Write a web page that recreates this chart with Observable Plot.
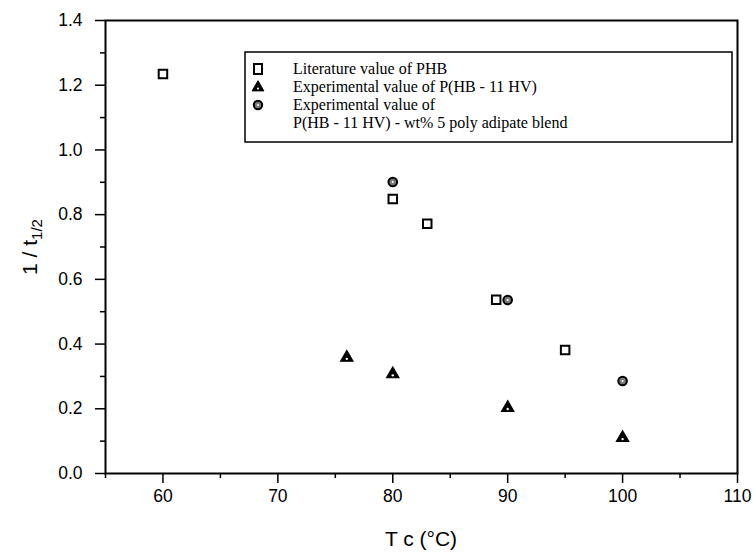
<!DOCTYPE html>
<html>
<head>
<meta charset="utf-8">
<script src="https://cdn.jsdelivr.net/npm/d3@7"></script>
<script src="https://cdn.jsdelivr.net/npm/@observablehq/plot@0.6"></script>
<style>
  html, body { margin: 0; padding: 0; background: white; }
</style>
</head>
<body>
<div id="chart"></div>
<script>
// ---- Data ----
const litT = [60, 80, 83, 89, 95];
const litV = [1.235, 0.848, 0.772, 0.537, 0.382];
const expT = [76, 80, 90, 100];
const expV = [0.358, 0.307, 0.203, 0.110];
const blendT = [80, 90, 100];
const blendV = [0.901, 0.536, 0.286];

const xMajor = [60, 70, 80, 90, 100, 110];
const xMinor = [55, 65, 75, 85, 95, 105];
const yMajor = [0, 0.2, 0.4, 0.6, 0.8, 1.0, 1.2, 1.4];
const yMinor = [0.1, 0.3, 0.5, 0.7, 0.9, 1.1, 1.3];

const legendLabels = [
  "Literature value of PHB",
  "Experimental value of P(HB - 11 HV)",
  "Experimental value of",
  "P(HB - 11 HV) - wt% 5 poly adipate blend"
];

const lit = litT.map((t, i) => ({t, v: litV[i]}));
const exp = expT.map((t, i) => ({t, v: expV[i]}));
const blend = blendT.map((t, i) => ({t, v: blendV[i]}));

const plot = Plot.plot({
  width: 756,
  height: 555,
  marginLeft: 105,
  marginRight: 19,
  marginTop: 20,
  marginBottom: 82,
  style: {fontFamily: "'Liberation Sans', Arial, sans-serif", fontSize: "17.5px", color: "black", background: "white"},
  x: {domain: [55, 110], label: null},
  y: {domain: [0, 1.4], label: null},
  marks: [
    Plot.axisX({ticks: xMajor, tickSize: 10, tickPadding: 6, strokeWidth: 1.5, tickFormat: d => String(d)}),
    Plot.axisX({ticks: xMinor, tickSize: 5, strokeWidth: 1.5, tickFormat: () => ""}),
    Plot.axisY({ticks: yMajor, tickSize: 10, tickPadding: 13, strokeWidth: 1.5, tickFormat: d => d.toFixed(1)}),
    Plot.axisY({ticks: yMinor, tickSize: 5, strokeWidth: 1.5, tickFormat: () => ""}),
    Plot.frame({stroke: "black", strokeWidth: 2}),
    Plot.dot(lit, {x: "t", y: "v", symbol: "square", r: 4.8, stroke: "black", strokeWidth: 2, fill: "white"}),
    Plot.dot(exp, {x: "t", y: "v", symbol: "triangle", r: 4.6, stroke: "black", strokeWidth: 1.2, fill: "black"}),
    Plot.dot(exp, {x: "t", y: "v", r: 1.2, fill: "white", dy: 1.2}),
    Plot.dot(blend, {x: "t", y: "v", symbol: "circle", r: 4.3, stroke: "black", strokeWidth: 2, fill: "#7a7a7a"}),
    Plot.dot(blend, {x: "t", y: "v", r: 1, fill: "white"})
  ]
});

const svg = d3.select(plot);

// Legend box
const lg = svg.append("g").attr("text-anchor", "start");
lg.append("rect").attr("x", 245).attr("y", 52).attr("width", 487).attr("height", 90)
  .attr("fill", "white").attr("stroke", "black").attr("stroke-width", 1.5);
const sx = 258;
const rows = [69, 87, 105, 123];
// square
lg.append("rect").attr("x", sx - 4).attr("y", rows[0] - 5).attr("width", 8).attr("height", 10)
  .attr("fill", "white").attr("stroke", "black").attr("stroke-width", 2);
// triangle
lg.append("path").attr("d", d3.symbol(d3.symbolTriangle, 60)())
  .attr("transform", `translate(${sx},${rows[1] + 0.5})`).attr("fill", "black").attr("stroke", "black").attr("stroke-width", 1);
lg.append("circle").attr("cx", sx).attr("cy", rows[1] + 1.5).attr("r", 1.1).attr("fill", "white");
// circle
lg.append("circle").attr("cx", sx).attr("cy", rows[2]).attr("r", 4.2)
  .attr("fill", "#7a7a7a").attr("stroke", "black").attr("stroke-width", 2);
lg.append("circle").attr("cx", sx).attr("cy", rows[2]).attr("r", 1).attr("fill", "white");
legendLabels.forEach((s, i) => {
  lg.append("text").attr("x", 293).attr("y", rows[i] + 5)
    .attr("text-anchor", "start")
    .attr("font-family", "'Liberation Serif', 'Times New Roman', serif")
    .attr("font-size", 16).attr("fill", "black").text(s);
});

// Axis titles
const yl = svg.append("text")
  .attr("transform", "translate(37,247) rotate(-90)")
  .attr("text-anchor", "middle")
  .attr("font-family", "'Liberation Sans', Arial, sans-serif")
  .attr("font-size", 21).attr("fill", "black");
yl.append("tspan").text("1 / t");
yl.append("tspan").attr("font-size", 15).attr("dy", 5).text("1/2");

svg.append("text")
  .attr("x", 421).attr("y", 546)
  .attr("text-anchor", "middle")
  .attr("font-family", "'Liberation Sans', Arial, sans-serif")
  .attr("font-size", 21).attr("fill", "black")
  .text("T c (°C)");

document.getElementById("chart").appendChild(plot);
</script>
</body>
</html>
